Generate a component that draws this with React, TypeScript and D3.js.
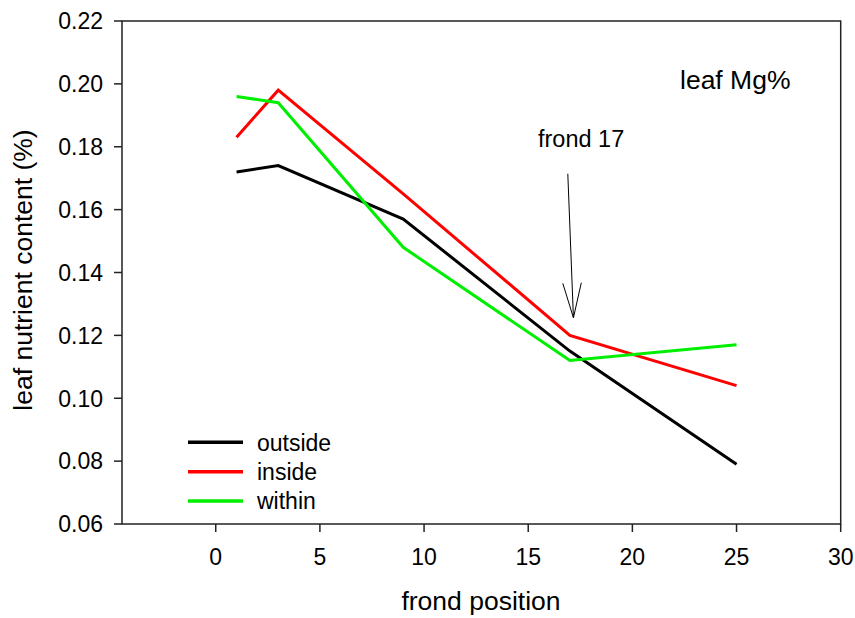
import React from "react";
import * as d3 from "d3";

const fronds = [1, 3, 9, 17, 25];
const outside = [0.172, 0.174, 0.157, 0.115, 0.079];
const inside = [0.183, 0.198, 0.165, 0.12, 0.104];
const within = [0.196, 0.194, 0.148, 0.112, 0.117];
const seriesNames = ["outside", "inside", "within"];
const seriesColors = ["#000000", "#ff0000", "#00ee00"];
const xTicks = [0, 5, 10, 15, 20, 25, 30];
const yTicks = [0.06, 0.08, 0.1, 0.12, 0.14, 0.16, 0.18, 0.2, 0.22];
const arrowFrom = [16.9, 0.1714];
const arrowTo = [17.17, 0.1256];

const W = 855;
const H = 618;
const FONT = "'Liberation Sans', Arial, sans-serif";

export default function App() {
  const x = d3.scaleLinear().domain([-4.5, 30]).range([122, 840.7]);
  const y = d3.scaleLinear().domain([0.06, 0.22]).range([524, 21]);
  const allSeries = [outside, inside, within];
  const line = d3
    .line<number>()
    .x((_, i) => x(fronds[i]))
    .y((d) => y(d));

  const ax = x(arrowFrom[0]);
  const ay = y(arrowFrom[1]);
  const bx = x(arrowTo[0]);
  const by = y(arrowTo[1]);
  const ang = Math.atan2(by - ay, bx - ax);
  const hl = 36;
  const hw = 0.26;
  const w1 = [bx - hl * Math.cos(ang - hw), by - hl * Math.sin(ang - hw)];
  const w2 = [bx - hl * Math.cos(ang + hw), by - hl * Math.sin(ang + hw)];

  return (
    <svg
      width={W}
      height={H}
      style={{ position: "absolute", left: 0, top: 0, background: "#fff" }}
      fontFamily={FONT}
    >
      <rect x={0} y={0} width={W} height={H} fill="#fff" />
      {allSeries.map((s, k) => (
        <path
          key={k}
          d={line(s) || ""}
          fill="none"
          stroke={seriesColors[k]}
          strokeWidth={3}
          strokeLinejoin="miter"
        />
      ))}
      {/* frame */}
      <rect
        x={x(-4.5)}
        y={y(0.22)}
        width={x(30) - x(-4.5)}
        height={y(0.06) - y(0.22)}
        fill="none"
        stroke="#222"
        strokeWidth={1.5}
      />
      {/* y ticks */}
      {yTicks.map((t) => (
        <g key={t}>
          <line x1={x(-4.5) - 8} x2={x(-4.5)} y1={y(t)} y2={y(t)} stroke="#222" strokeWidth={1.5} />
          <text
            x={x(-4.5) - 19}
            y={y(t)}
            dy="0.36em"
            textAnchor="end"
            fontSize={23}
            fill="#000"
          >
            {d3.format(".2f")(t)}
          </text>
        </g>
      ))}
      {/* x ticks */}
      {xTicks.map((t) => (
        <g key={t}>
          <line x1={x(t)} x2={x(t)} y1={y(0.06)} y2={y(0.06) + 8} stroke="#222" strokeWidth={1.5} />
          <text x={x(t)} y={565} textAnchor="middle" fontSize={23} fill="#000">
            {t}
          </text>
        </g>
      ))}
      {/* axis titles */}
      <text x={481} y={610} textAnchor="middle" fontSize={26.5} fill="#000">
        frond position
      </text>
      <text
        transform={`translate(32,270) rotate(-90)`}
        textAnchor="middle"
        fontSize={26.5}
        fill="#000"
      >
        leaf nutrient content (%)
      </text>
      {/* annotation */}
      <text x={680} y={89} fontSize={26.5} fill="#000">
        leaf Mg%
      </text>
      <text x={538} y={147} fontSize={23.5} fill="#000">
        frond 17
      </text>
      <line x1={ax} y1={ay} x2={bx} y2={by} stroke="#000" strokeWidth={1} />
      <polyline
        points={`${w1[0]},${w1[1]} ${bx},${by} ${w2[0]},${w2[1]}`}
        fill="none"
        stroke="#000"
        strokeWidth={1}
      />
      {/* legend */}
      {seriesNames.map((n, k) => (
        <g key={n}>
          <line
            x1={188}
            x2={243}
            y1={442.3 + k * 29.4}
            y2={442.3 + k * 29.4}
            stroke={seriesColors[k]}
            strokeWidth={3.5}
          />
          <text x={257} y={442.3 + k * 29.4} dy="0.36em" fontSize={23} fill="#000">
            {n}
          </text>
        </g>
      ))}
    </svg>
  );
}
